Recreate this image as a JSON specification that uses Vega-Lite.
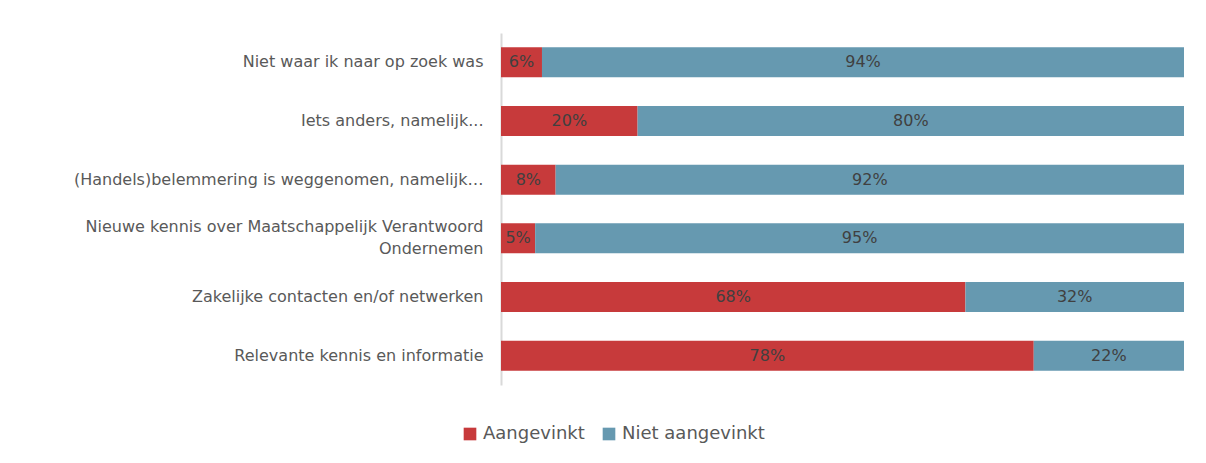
{
  "$schema": "https://vega.github.io/schema/vega-lite/v6.json",
  "width": 683,
  "height": 352,
  "autosize": {"type": "none"},
  "padding": {"left": 501, "top": 33, "right": 22, "bottom": 78},
  "background": "white",
  "config": {"view": {"stroke": null}, "font": "DejaVu Sans"},
  "data": {
    "values": [
      {"cat": "Niet waar ik naar op zoek was", "i": 1, "serie": "Aangevinkt", "k": 1, "v": 6},
      {"cat": "Niet waar ik naar op zoek was", "i": 1, "serie": "Niet aangevinkt", "k": 2, "v": 94},
      {"cat": "Iets anders, namelijk...", "i": 2, "serie": "Aangevinkt", "k": 1, "v": 20},
      {"cat": "Iets anders, namelijk...", "i": 2, "serie": "Niet aangevinkt", "k": 2, "v": 80},
      {"cat": "(Handels)belemmering is weggenomen, namelijk…", "i": 3, "serie": "Aangevinkt", "k": 1, "v": 8},
      {"cat": "(Handels)belemmering is weggenomen, namelijk…", "i": 3, "serie": "Niet aangevinkt", "k": 2, "v": 92},
      {"cat": "Nieuwe kennis over Maatschappelijk Verantwoord|Ondernemen", "i": 4, "serie": "Aangevinkt", "k": 1, "v": 5},
      {"cat": "Nieuwe kennis over Maatschappelijk Verantwoord|Ondernemen", "i": 4, "serie": "Niet aangevinkt", "k": 2, "v": 95},
      {"cat": "Zakelijke contacten en/of netwerken", "i": 5, "serie": "Aangevinkt", "k": 1, "v": 68},
      {"cat": "Zakelijke contacten en/of netwerken", "i": 5, "serie": "Niet aangevinkt", "k": 2, "v": 32},
      {"cat": "Relevante kennis en informatie", "i": 6, "serie": "Aangevinkt", "k": 1, "v": 78},
      {"cat": "Relevante kennis en informatie", "i": 6, "serie": "Niet aangevinkt", "k": 2, "v": 22}
    ]
  },
  "transform": [
    {"stack": "v", "groupby": ["cat"], "sort": [{"field": "k"}], "as": ["x0", "x1"]},
    {"calculate": "(datum.x0 + datum.x1) / 2", "as": "xm"},
    {"calculate": "datum.v + '%'", "as": "lbl"}
  ],
  "encoding": {
    "y": {
      "field": "cat",
      "type": "nominal",
      "sort": {"field": "i", "op": "min"},
      "scale": {"paddingInner": 0.49, "paddingOuter": 0.245},
      "axis": {
        "title": null,
        "ticks": false,
        "domainColor": "#D9D9D9",
        "domainWidth": 2,
        "labelPadding": 18,
        "labelFontSize": 16,
        "labelColor": "#595959",
        "labelLimit": 600,
        "labelLineHeight": 22,
        "labelOffset": {"condition": {"test": "indexof(datum.value, '|') >= 0", "value": -11}, "value": 0},
        "labelExpr": "split(datum.label, '|')"
      }
    }
  },
  "layer": [
    {
      "mark": {"type": "bar"},
      "encoding": {
        "x": {"field": "x0", "type": "quantitative", "scale": {"domain": [0, 100]}, "axis": null},
        "x2": {"field": "x1"},
        "color": {
          "field": "serie",
          "type": "nominal",
          "scale": {"domain": ["Aangevinkt", "Niet aangevinkt"], "range": ["#C73A3B", "#6699B0"]},
          "legend": {
            "title": null,
            "orient": "none",
            "direction": "horizontal",
            "legendX": -40,
            "legendY": 392,
            "symbolType": "square",
            "symbolSize": 160,
            "symbolStrokeWidth": 0,
            "labelFontSize": 18,
            "labelColor": "#595959",
            "columnPadding": 15,
            "labelOffset": 4
          }
        }
      }
    },
    {
      "mark": {"type": "text", "fontSize": 16, "color": "#404040"},
      "encoding": {
        "x": {"field": "xm", "type": "quantitative", "scale": {"domain": [0, 100]}},
        "text": {"field": "lbl"}
      }
    }
  ]
}
